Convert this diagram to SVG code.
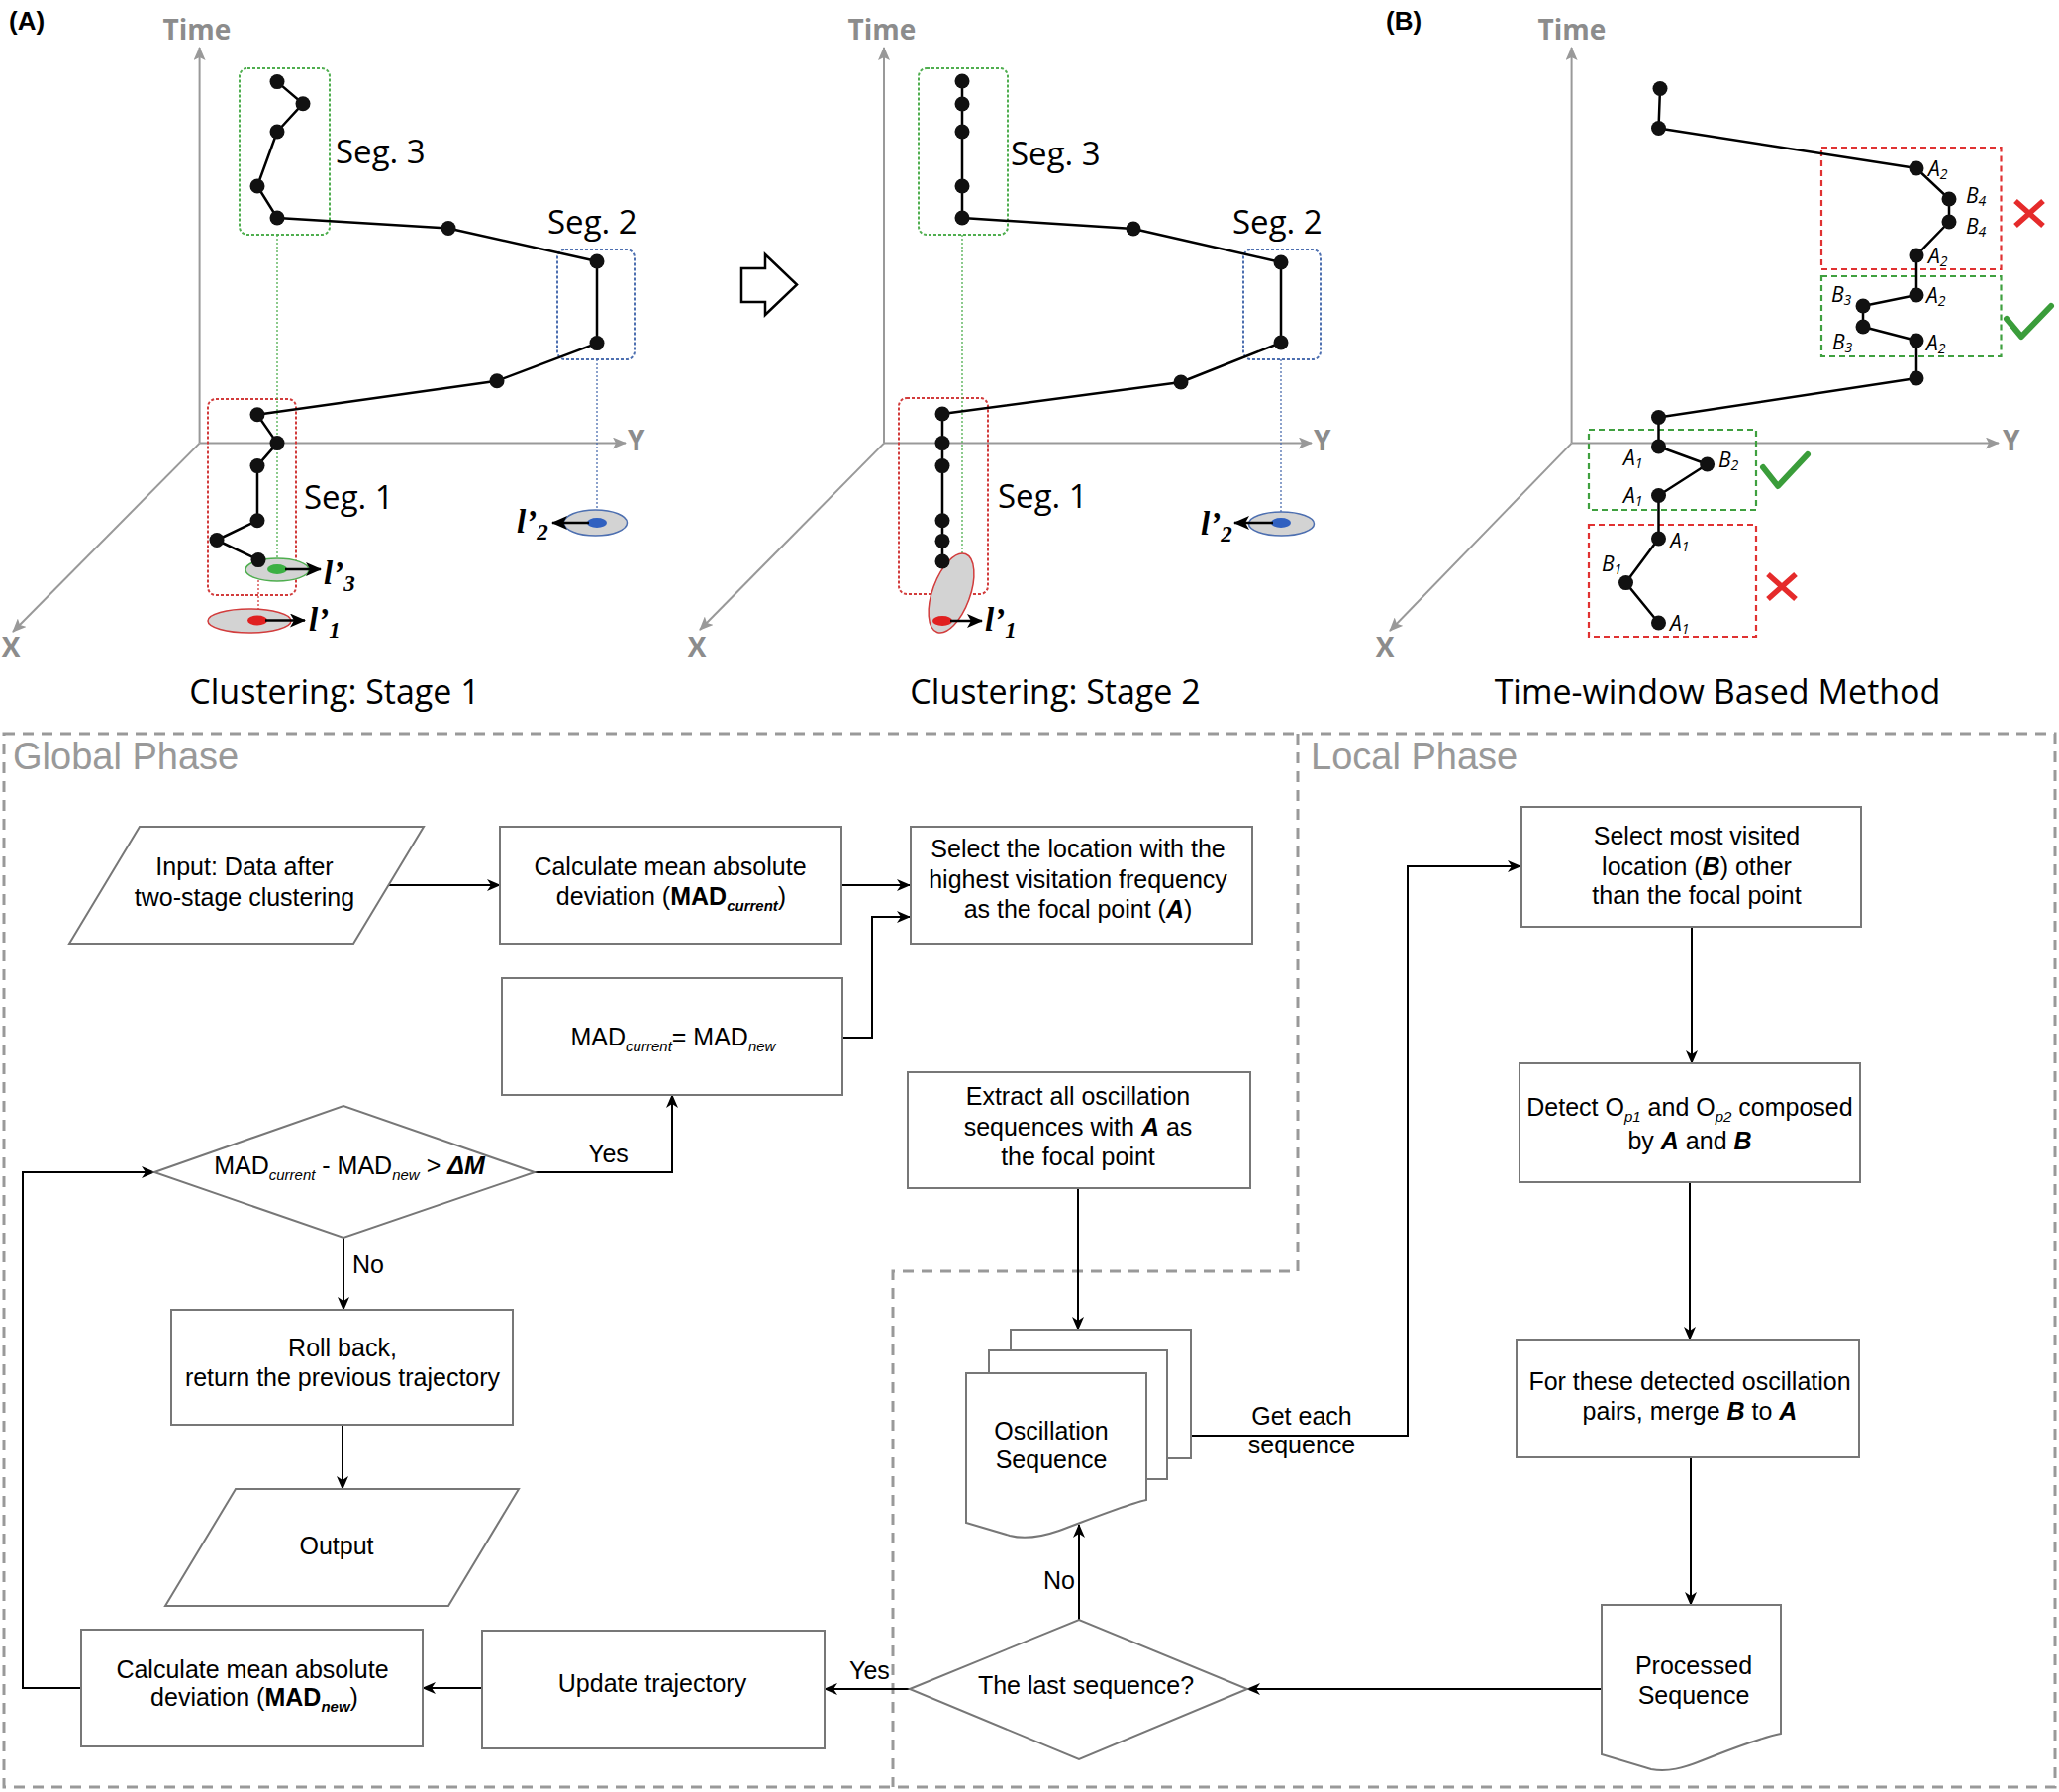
<svg xmlns="http://www.w3.org/2000/svg" width="2080" height="1810" viewBox="0 0 2080 1810">
<defs>
  <marker id="axisHead" markerUnits="userSpaceOnUse" markerWidth="14" markerHeight="12" refX="13" refY="6" orient="auto"><path d="M0,0 L14,6 L0,12 L3,6 Z" fill="#999"/></marker>
  <marker id="lHead" markerUnits="userSpaceOnUse" markerWidth="16" markerHeight="14" refX="15" refY="7" orient="auto"><path d="M0,0 L16,7 L0,14 L4,7 Z" fill="#000"/></marker>
  <marker id="flowHead" markerUnits="userSpaceOnUse" markerWidth="14" markerHeight="12" refX="13" refY="6" orient="auto"><path d="M0,0 L14,6 L0,12 L4,6 Z" fill="#000"/></marker>
</defs>
<style>
  .axis{stroke:#999;stroke-width:2;fill:none}
  .axlbl{font-family:"Open Sans","Noto Sans",sans-serif;font-weight:bold;font-size:28px;fill:#8c8c8c}
  .plabel{font-family:"Open Sans","Noto Sans",sans-serif;font-size:33px;fill:#000}
  .ptitle{font-family:"Open Sans","Noto Sans",sans-serif;font-size:34px;fill:#000;text-anchor:middle}
  .tag{font-family:"Liberation Sans",Arial,sans-serif;font-weight:bold;font-size:26px;fill:#000}
  .traj{stroke:#000;stroke-width:2.5;fill:none;stroke-linejoin:round}
  .dot{fill:#111}
  .segG{stroke:#4fae4f;stroke-width:2;fill:none;stroke-dasharray:3 2}
  .segB{stroke:#4d6fb0;stroke-width:2;fill:none;stroke-dasharray:3 2}
  .segR{stroke:#d23c3c;stroke-width:2;fill:none;stroke-dasharray:3 2}
  .projG{stroke:#4fae4f;stroke-width:1.3;stroke-dasharray:2 2}
  .projB{stroke:#4d6fb0;stroke-width:1.3;stroke-dasharray:2 2}
  .projR{stroke:#d23c3c;stroke-width:1.3;stroke-dasharray:2 2}
  .ell{fill:#d3d3d3;stroke-width:1.5}
  .lptr{stroke:#000;stroke-width:2.5;marker-end:url(#lHead)}
  .lsym{font-family:"Liberation Serif","Times New Roman",serif;font-style:italic;font-weight:bold;font-size:33px;fill:#000}
  .winR{stroke:#e03232;stroke-width:2.2;fill:none;stroke-dasharray:6 4}
  .winG{stroke:#3fa03f;stroke-width:2.2;fill:none;stroke-dasharray:6 4}
  .ok{stroke:#3a9d3a;stroke-width:6;fill:none;stroke-linecap:round;stroke-linejoin:round}
  .no{stroke:#e52b2b;stroke-width:5.5;fill:none}
  .ab{font-family:"Open Sans","Noto Sans",sans-serif;font-style:italic;font-size:21px;fill:#000}
  .region{stroke:#999;stroke-width:3;fill:none;stroke-dasharray:11 8}
  .phase{font-family:"Liberation Sans",Arial,sans-serif;font-size:38px;fill:#999}
  .box{fill:#fff;stroke:#777;stroke-width:2}
  .ft{font-family:"Liberation Sans",Arial,sans-serif;font-size:25px;fill:#000;text-anchor:middle}
  .fl{font-family:"Liberation Sans",Arial,sans-serif;font-size:25px;fill:#000}
  .conn{stroke:#000;stroke-width:2;fill:none}
  .arr{marker-end:url(#flowHead)}
</style>
<rect width="2080" height="1810" fill="#fff"/>

<!-- Panel A, stage 1 -->
<g id="stage1">
  <text class="tag" x="9" y="30">(A)</text>
  <line class="axis" x1="201.6" y1="447.6" x2="201.6" y2="48" marker-end="url(#axisHead)"/>
  <line class="axis" x1="201.6" y1="447.6" x2="632" y2="447.6" marker-end="url(#axisHead)"/>
  <line class="axis" x1="201.6" y1="447.6" x2="13" y2="638" marker-end="url(#axisHead)"/>
  <text class="axlbl" x="199" y="40" text-anchor="middle">Time</text>
  <text class="axlbl" x="634" y="455">Y</text>
  <text class="axlbl" x="11" y="664" text-anchor="middle">X</text>
  <rect class="segG" x="242" y="69" width="91" height="168" rx="8"/>
  <rect class="segB" x="563" y="252" width="78" height="111" rx="8"/>
  <rect class="segR" x="210" y="403" width="89" height="198" rx="8"/>
  <line class="projG" x1="280" y1="237" x2="280" y2="575"/>
  <line class="projB" x1="603" y1="363" x2="603" y2="528"/>
  <line class="projR" x1="261" y1="566" x2="261" y2="626"/>
  <ellipse class="ell" cx="280" cy="575.5" rx="32" ry="11.5" stroke="#4fae4f"/>
  <ellipse cx="280" cy="575" rx="10" ry="5" fill="#3cb043"/>
  <ellipse class="ell" cx="252" cy="627" rx="42" ry="12" stroke="#d23c3c"/>
  <ellipse cx="260" cy="626.5" rx="10" ry="5" fill="#e02020"/>
  <ellipse class="ell" cx="601.5" cy="528" rx="32" ry="13" stroke="#4d6fb0"/>
  <ellipse cx="603" cy="528" rx="10" ry="5" fill="#3060c0"/>
  <line class="lptr" x1="288" y1="575" x2="324" y2="575"/>
  <line class="lptr" x1="268" y1="626.5" x2="308" y2="626.5"/>
  <line class="lptr" x1="595" y1="528" x2="558" y2="528"/>
  <text class="lsym" x="327" y="590">l’<tspan font-size="23" dy="7">3</tspan></text>
  <text class="lsym" x="312" y="637">l’<tspan font-size="23" dy="7">1</tspan></text>
  <text class="lsym" x="522" y="538">l’<tspan font-size="23" dy="7">2</tspan></text>
  <polyline class="traj" points="280,82.6 306,104.7 280,133 260,188 280,220 453,230.5 603,264 603,346.6 502,384.8 260,418.7 280,447.6 260,470.6 260,525.7 219,545.5 261,565.6"/>
  <g class="dot">
    <circle cx="280" cy="82.6" r="7.5"/><circle cx="306" cy="104.7" r="7.5"/><circle cx="280" cy="133" r="7.5"/>
    <circle cx="260" cy="188" r="7.5"/><circle cx="280" cy="220" r="7.5"/><circle cx="453" cy="230.5" r="7.5"/>
    <circle cx="603" cy="264" r="7.5"/><circle cx="603" cy="346.6" r="7.5"/><circle cx="502" cy="384.8" r="7.5"/>
    <circle cx="260" cy="418.7" r="7.5"/><circle cx="280" cy="447.6" r="7.5"/><circle cx="260" cy="470.6" r="7.5"/>
    <circle cx="260" cy="525.7" r="7.5"/><circle cx="219" cy="545.5" r="7.5"/><circle cx="261" cy="565.6" r="7.5"/>
  </g>
  <text class="plabel" x="339" y="165">Seg. 3</text>
  <text class="plabel" x="553" y="236">Seg. 2</text>
  <text class="plabel" x="307" y="514">Seg. 1</text>
  <text class="ptitle" x="338" y="711">Clustering: Stage 1</text>
</g>

<!-- hollow arrow between stages -->
<g id="stageArrow">
  <path d="M749,271 H773 V257 L805,287.5 L773,318 V305 H749 Z" fill="#fff" stroke="#000" stroke-width="2.5" stroke-linejoin="miter"/>
</g>

<!-- Panel A, stage 2 -->
<g id="stage2">
  <line class="axis" x1="893" y1="447.6" x2="893" y2="48" marker-end="url(#axisHead)"/>
  <line class="axis" x1="893" y1="447.6" x2="1325" y2="447.6" marker-end="url(#axisHead)"/>
  <line class="axis" x1="893" y1="447.6" x2="707" y2="636" marker-end="url(#axisHead)"/>
  <text class="axlbl" x="891" y="40" text-anchor="middle">Time</text>
  <text class="axlbl" x="1327" y="455">Y</text>
  <text class="axlbl" x="704" y="664" text-anchor="middle">X</text>
  <rect class="segG" x="928" y="69" width="90" height="168" rx="8"/>
  <rect class="segB" x="1256" y="252" width="78" height="111" rx="8"/>
  <rect class="segR" x="908" y="402" width="90" height="198" rx="8"/>
  <line class="projG" x1="972" y1="237" x2="972" y2="560"/>
  <line class="projB" x1="1294" y1="363" x2="1294" y2="528"/>
  <line class="projR" x1="952" y1="567" x2="952" y2="626"/>
  <ellipse class="ell" cx="961" cy="599" rx="19" ry="42" transform="rotate(20 961 599)" stroke="#d23c3c"/>
  <ellipse cx="952" cy="627" rx="10" ry="5" fill="#e02020"/>
  <ellipse class="ell" cx="1294.5" cy="529" rx="33" ry="12" stroke="#4d6fb0"/>
  <ellipse cx="1294" cy="528" rx="10" ry="5" fill="#3060c0"/>
  <line class="lptr" x1="960" y1="627" x2="992" y2="627"/>
  <line class="lptr" x1="1286" y1="528" x2="1247" y2="528"/>
  <text class="lsym" x="995" y="637">l’<tspan font-size="23" dy="7">1</tspan></text>
  <text class="lsym" x="1213" y="540">l’<tspan font-size="23" dy="7">2</tspan></text>
  <polyline class="traj" points="972,82 972,105 972,133 972,188 972,220 1145,231 1294,265 1294,346 1193,386 952,418 952,447.6 952,470.6 952,525.7 952,546.4 952,567"/>
  <g class="dot">
    <circle cx="972" cy="82" r="7.5"/><circle cx="972" cy="105" r="7.5"/><circle cx="972" cy="133" r="7.5"/>
    <circle cx="972" cy="188" r="7.5"/><circle cx="972" cy="220" r="7.5"/><circle cx="1145" cy="231" r="7.5"/>
    <circle cx="1294" cy="265" r="7.5"/><circle cx="1294" cy="346" r="7.5"/><circle cx="1193" cy="386" r="7.5"/>
    <circle cx="952" cy="418" r="7.5"/><circle cx="952" cy="447.6" r="7.5"/><circle cx="952" cy="470.6" r="7.5"/>
    <circle cx="952" cy="525.7" r="7.5"/><circle cx="952" cy="546.4" r="7.5"/><circle cx="952" cy="567" r="7.5"/>
  </g>
  <text class="plabel" x="1021" y="167">Seg. 3</text>
  <text class="plabel" x="1245" y="236">Seg. 2</text>
  <text class="plabel" x="1008" y="513">Seg. 1</text>
  <text class="ptitle" x="1066" y="711">Clustering: Stage 2</text>
</g>

<!-- Panel B, time-window method -->
<g id="timeWindow">
  <text class="tag" x="1400" y="30">(B)</text>
  <line class="axis" x1="1587.6" y1="447.6" x2="1587.6" y2="48" marker-end="url(#axisHead)"/>
  <line class="axis" x1="1587.6" y1="447.6" x2="2019" y2="447.6" marker-end="url(#axisHead)"/>
  <line class="axis" x1="1587.6" y1="447.6" x2="1404" y2="637" marker-end="url(#axisHead)"/>
  <text class="axlbl" x="1588" y="40" text-anchor="middle">Time</text>
  <text class="axlbl" x="2023" y="455">Y</text>
  <text class="axlbl" x="1399" y="664" text-anchor="middle">X</text>
  <rect class="winR" x="1840" y="149" width="181.5" height="123"/>
  <rect class="winG" x="1840" y="279" width="181.5" height="81"/>
  <rect class="winG" x="1605" y="434" width="169" height="81"/>
  <rect class="winR" x="1605" y="530" width="169" height="113"/>
  <polyline class="traj" points="1677,89.5 1675.5,129.5 1936,170 1969,201 1969,224 1936,258 1936,298 1882,309 1882,330 1936,344 1936,382 1675.5,421.5 1675.5,451 1724.6,469 1675.5,500.5 1675.5,544 1642.5,588.6 1675.5,629"/>
  <g class="dot">
    <circle cx="1677" cy="89.5" r="7.5"/><circle cx="1675.5" cy="129.5" r="7.5"/><circle cx="1936" cy="170" r="7.5"/>
    <circle cx="1969" cy="201" r="7.5"/><circle cx="1969" cy="224" r="7.5"/><circle cx="1936" cy="258" r="7.5"/>
    <circle cx="1936" cy="298" r="7.5"/><circle cx="1882" cy="309" r="7.5"/><circle cx="1882" cy="330" r="7.5"/>
    <circle cx="1936" cy="344" r="7.5"/><circle cx="1936" cy="382" r="7.5"/><circle cx="1675.5" cy="421.5" r="7.5"/>
    <circle cx="1675.5" cy="451" r="7.5"/><circle cx="1724.6" cy="469" r="7.5"/><circle cx="1675.5" cy="500.5" r="7.5"/>
    <circle cx="1675.5" cy="544" r="7.5"/><circle cx="1642.5" cy="588.6" r="7.5"/><circle cx="1675.5" cy="629" r="7.5"/>
  </g>
  <text class="ab" x="1948" y="178">A<tspan font-size="14" dy="3">2</tspan></text>
  <text class="ab" x="1986" y="205">B<tspan font-size="14" dy="3">4</tspan></text>
  <text class="ab" x="1986" y="236">B<tspan font-size="14" dy="3">4</tspan></text>
  <text class="ab" x="1948" y="266">A<tspan font-size="14" dy="3">2</tspan></text>
  <text class="ab" x="1946" y="306">A<tspan font-size="14" dy="3">2</tspan></text>
  <text class="ab" x="1850" y="305">B<tspan font-size="14" dy="3">3</tspan></text>
  <text class="ab" x="1851" y="353">B<tspan font-size="14" dy="3">3</tspan></text>
  <text class="ab" x="1946" y="354">A<tspan font-size="14" dy="3">2</tspan></text>
  <text class="ab" x="1640" y="470">A<tspan font-size="14" dy="3">1</tspan></text>
  <text class="ab" x="1736" y="472">B<tspan font-size="14" dy="3">2</tspan></text>
  <text class="ab" x="1640" y="508">A<tspan font-size="14" dy="3">1</tspan></text>
  <text class="ab" x="1687" y="554">A<tspan font-size="14" dy="3">1</tspan></text>
  <text class="ab" x="1618" y="577">B<tspan font-size="14" dy="3">1</tspan></text>
  <text class="ab" x="1687" y="637">A<tspan font-size="14" dy="3">1</tspan></text>
  <path class="no" d="M2036,203 L2064,228 M2064,203 L2036,228"/>
  <polyline class="ok" points="2027,322 2042,340 2072,309"/>
  <polyline class="ok" points="1781,472 1796,491 1826,459"/>
  <path class="no" d="M1786,580 L1814,605 M1814,580 L1786,605"/>
  <text class="ptitle" x="1735" y="711">Time-window Based Method</text>
</g>

<!-- Phase regions -->
<g id="phases">
  <rect class="region" x="4" y="741" width="2072" height="1064"/>
  <polyline class="region" points="1311,741 1311,1284 902,1284 902,1805"/>
  <text class="phase" x="13" y="777">Global Phase</text>
  <text class="phase" x="1324" y="777">Local Phase</text>
</g>

<!-- Connectors -->
<g id="connectors">
  <line class="conn arr" x1="392" y1="894" x2="505" y2="894"/>
  <line class="conn arr" x1="850" y1="894" x2="919" y2="894"/>
  <polyline class="conn arr" points="851,1048 881,1048 881,926 919,926"/>
  <polyline class="conn arr" points="540,1184 679,1184 679,1106"/>
  <line class="conn arr" x1="347" y1="1250" x2="347" y2="1323"/>
  <line class="conn arr" x1="346" y1="1439" x2="346" y2="1504"/>
  <polyline class="conn arr" points="82,1705 23,1705 23,1184 156,1184"/>
  <line class="conn arr" x1="487" y1="1705" x2="427" y2="1705"/>
  <line class="conn arr" x1="919" y1="1706" x2="833" y2="1706"/>
  <line class="conn arr" x1="1090" y1="1636" x2="1090" y2="1540"/>
  <line class="conn arr" x1="1089" y1="1200" x2="1089" y2="1343"/>
  <polyline class="conn arr" points="1203,1450 1422,1450 1422,875 1536,875"/>
  <line class="conn arr" x1="1709" y1="936" x2="1709" y2="1074"/>
  <line class="conn arr" x1="1707" y1="1194" x2="1707" y2="1353"/>
  <line class="conn arr" x1="1708" y1="1472" x2="1708" y2="1621"/>
  <line class="conn arr" x1="1618" y1="1706" x2="1260" y2="1706"/>
  <text class="fl" x="594" y="1174">Yes</text>
  <text class="fl" x="356" y="1286">No</text>
  <text class="fl" x="858" y="1696">Yes</text>
  <text class="fl" x="1054" y="1605">No</text>
  <text class="ft" x="1315" y="1439">Get each</text>
  <text class="ft" x="1315" y="1468">sequence</text>
</g>

<!-- Global phase nodes -->
<g id="input">
  <polygon class="box" points="141,835 428,835 357,953 70,953"/>
  <text class="ft" x="247" y="884">Input: Data after</text>
  <text class="ft" x="247" y="915">two-stage clustering</text>
</g>
<g id="madCurrent">
  <rect class="box" x="505" y="835" width="345" height="118"/>
  <text class="ft" x="677" y="884">Calculate mean absolute</text>
  <text class="ft" x="678" y="914">deviation (<tspan font-weight="bold">MAD</tspan><tspan font-size="15" font-style="italic" font-weight="bold" dy="6">current</tspan><tspan dy="-6">)</tspan></text>
</g>
<g id="madAssign">
  <rect class="box" x="507" y="988" width="344" height="118"/>
  <text class="ft" x="680" y="1056">MAD<tspan font-size="15" font-style="italic" dy="6">current</tspan><tspan dy="-6">= MAD</tspan><tspan font-size="15" font-style="italic" dy="6">new</tspan></text>
</g>
<g id="madTest">
  <polygon class="box" points="156,1184 347,1117 540,1184 347,1250"/>
  <text class="ft" x="353" y="1186">MAD<tspan font-size="15" font-style="italic" dy="6">current</tspan><tspan dy="-6"> - MAD</tspan><tspan font-size="15" font-style="italic" dy="6">new</tspan><tspan dy="-6"> &gt; </tspan><tspan font-weight="bold" font-style="italic">ΔM</tspan></text>
</g>
<g id="rollBack">
  <rect class="box" x="173" y="1323" width="345" height="116"/>
  <text class="ft" x="346" y="1370">Roll back,</text>
  <text class="ft" x="346" y="1400">return the previous trajectory</text>
</g>
<g id="output">
  <polygon class="box" points="238,1504 524,1504 453,1622 167,1622"/>
  <text class="ft" x="340" y="1570">Output</text>
</g>
<g id="madNew">
  <rect class="box" x="82" y="1646" width="345" height="118"/>
  <text class="ft" x="255" y="1695">Calculate mean absolute</text>
  <text class="ft" x="257" y="1723">deviation (<tspan font-weight="bold">MAD</tspan><tspan font-size="15" font-style="italic" font-weight="bold" dy="6">new</tspan><tspan dy="-6">)</tspan></text>
</g>
<g id="updateTrajectory">
  <rect class="box" x="487" y="1647" width="346" height="119"/>
  <text class="ft" x="659" y="1709">Update trajectory</text>
</g>
<g id="focalPoint">
  <rect class="box" x="920" y="835" width="345" height="118"/>
  <text class="ft" x="1089" y="866">Select the location with the</text>
  <text class="ft" x="1089" y="897">highest visitation frequency</text>
  <text class="ft" x="1089" y="927">as the focal point (<tspan font-weight="bold" font-style="italic">A</tspan>)</text>
</g>
<g id="extract">
  <rect class="box" x="917" y="1083" width="346" height="117"/>
  <text class="ft" x="1089" y="1116">Extract all oscillation</text>
  <text class="ft" x="1089" y="1147">sequences with <tspan font-weight="bold" font-style="italic">A</tspan> as</text>
  <text class="ft" x="1089" y="1177">the focal point</text>
</g>

<!-- Local phase nodes -->
<g id="oscSequence">
  <rect class="box" x="1021" y="1343" width="182" height="130"/>
  <rect class="box" x="999" y="1364" width="180" height="130"/>
  <path class="box" d="M976,1387 H1158 V1515 C1140,1519 1110,1531 1070,1546 C1050,1553 1035,1555 1020,1551 L976,1538 Z"/>
  <text class="ft" x="1062" y="1454">Oscillation</text>
  <text class="ft" x="1062" y="1483">Sequence</text>
</g>
<g id="lastSequence">
  <polygon class="box" points="919,1706 1090,1636 1260,1706 1090,1777"/>
  <text class="ft" x="1097" y="1711">The last sequence?</text>
</g>
<g id="selectB">
  <rect class="box" x="1537" y="815" width="343" height="121"/>
  <text class="ft" x="1714" y="853">Select most visited</text>
  <text class="ft" x="1714" y="884">location (<tspan font-weight="bold" font-style="italic">B</tspan>) other</text>
  <text class="ft" x="1714" y="913">than the focal point</text>
</g>
<g id="detect">
  <rect class="box" x="1535" y="1074" width="344" height="120"/>
  <text class="ft" x="1707" y="1127">Detect O<tspan font-size="15" font-style="italic" dy="6">p1</tspan><tspan dy="-6"> and O</tspan><tspan font-size="15" font-style="italic" dy="6">p2</tspan><tspan dy="-6"> composed</tspan></text>
  <text class="ft" x="1707" y="1161">by <tspan font-weight="bold" font-style="italic">A</tspan> and <tspan font-weight="bold" font-style="italic">B</tspan></text>
</g>
<g id="merge">
  <rect class="box" x="1532" y="1353" width="346" height="119"/>
  <text class="ft" x="1707" y="1404">For these detected oscillation</text>
  <text class="ft" x="1707" y="1434">pairs, merge <tspan font-weight="bold" font-style="italic">B</tspan> to <tspan font-weight="bold" font-style="italic">A</tspan></text>
</g>
<g id="processed">
  <path class="box" d="M1618,1621 H1799 V1751 C1780,1755 1750,1766 1720,1778 C1700,1786 1685,1790 1668,1787 L1618,1772 Z"/>
  <text class="ft" x="1711" y="1691">Processed</text>
  <text class="ft" x="1711" y="1721">Sequence</text>
</g>
</svg>
